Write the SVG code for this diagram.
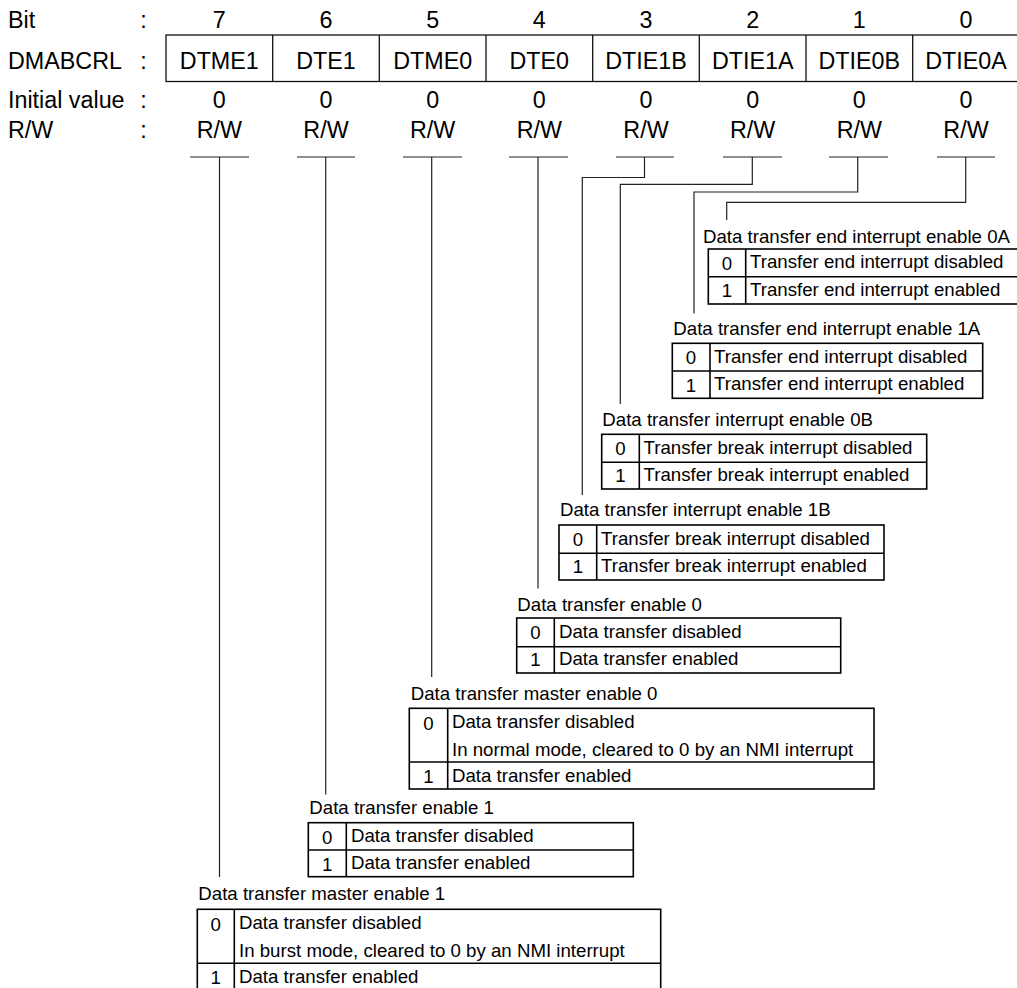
<svg xmlns="http://www.w3.org/2000/svg" width="1017" height="988" viewBox="0 0 1017 988">
<style>
text{font-family:"Liberation Sans",Arial,sans-serif;font-size:18.67px;fill:#000}
.h text{font-size:23.3px}
.c{text-anchor:middle}
.tb{fill:none;stroke:#000;stroke-width:1.6}
.ln{fill:none;stroke:#222;stroke-width:1.2}
.bx{fill:none;stroke:#111;stroke-width:1.3}
</style>
<rect width="1017" height="988" fill="#fff"/>
<g id="header" class="h">
<text x="8" y="27.5">Bit</text>
<text x="8" y="69">DMABCRL</text>
<text x="8" y="108.3">Initial value</text>
<text x="8" y="138.3">R/W</text>
<text class="c" x="143.5" y="27.5">:</text>
<text class="c" x="143.5" y="69">:</text>
<text class="c" x="143.5" y="108.3">:</text>
<text class="c" x="143.5" y="138.3">:</text>
<text class="c" x="219.3" y="27.5">7</text><text class="c" x="326" y="27.5">6</text><text class="c" x="432.7" y="27.5">5</text><text class="c" x="539.3" y="27.5">4</text><text class="c" x="646" y="27.5">3</text><text class="c" x="752.7" y="27.5">2</text><text class="c" x="859.3" y="27.5">1</text><text class="c" x="966" y="27.5">0</text>
<rect class="bx" x="166" y="35" width="856" height="46.5"/>
<path class="bx" d="M272.7 35V81.5M379.3 35V81.5M486 35V81.5M592.7 35V81.5M699.3 35V81.5M806 35V81.5M912.7 35V81.5"/>
<text class="c" x="219.3" y="69">DTME1</text><text class="c" x="326" y="69">DTE1</text><text class="c" x="432.7" y="69">DTME0</text><text class="c" x="539.3" y="69">DTE0</text><text class="c" x="646" y="69">DTIE1B</text><text class="c" x="752.7" y="69">DTIE1A</text><text class="c" x="859.3" y="69">DTIE0B</text><text class="c" x="966" y="69">DTIE0A</text>
<text class="c" x="219.3" y="108.3">0</text><text class="c" x="326" y="108.3">0</text><text class="c" x="432.7" y="108.3">0</text><text class="c" x="539.3" y="108.3">0</text><text class="c" x="646" y="108.3">0</text><text class="c" x="752.7" y="108.3">0</text><text class="c" x="859.3" y="108.3">0</text><text class="c" x="966" y="108.3">0</text>
<text class="c" x="219.3" y="138.3">R/W</text><text class="c" x="326" y="138.3">R/W</text><text class="c" x="432.7" y="138.3">R/W</text><text class="c" x="539.3" y="138.3">R/W</text><text class="c" x="646" y="138.3">R/W</text><text class="c" x="752.7" y="138.3">R/W</text><text class="c" x="859.3" y="138.3">R/W</text><text class="c" x="966" y="138.3">R/W</text>
</g>
<g id="connectors">
<path class="ln" d="M190 157H249M297 157H355M403 157H462M509 157H568M616 157H674M723 157H782M829 157H888M937 157H995"/>
<path class="ln" d="M219.5 157V877"/>
<path class="ln" d="M325.7 157V794.5"/>
<path class="ln" d="M431.7 157V677"/>
<path class="ln" d="M538 157V588.5"/>
<path class="ln" d="M644.5 157V177.5H582.3V495"/>
<path class="ln" d="M752.3 157V184.3H620.3V404"/>
<path class="ln" d="M857.7 157V192H694V313.5"/>
<path class="ln" d="M965.7 157V202.3H726.7V220"/>
</g>
<g id="dtie0a">
<text x="703" y="243">Data transfer end interrupt enable 0A</text>
<rect class="tb" x="708.3" y="249" width="320" height="55"/>
<path class="tb" d="M745.7 249V304M708.3 276.7H1028"/>
<text class="c" x="727" y="269.5">0</text><text x="750" y="268.3">Transfer end interrupt disabled</text>
<text class="c" x="727" y="297">1</text><text x="750" y="295.5">Transfer end interrupt enabled</text>
</g>
<g id="dtie1a">
<text x="673.3" y="335">Data transfer end interrupt enable 1A</text>
<rect class="tb" x="672.3" y="343.3" width="310.4" height="55"/>
<path class="tb" d="M710 343.3V398.3M672.3 371H982.7"/>
<text class="c" x="691" y="364">0</text><text x="714" y="362.8">Transfer end interrupt disabled</text>
<text class="c" x="691" y="391.5">1</text><text x="714" y="390">Transfer end interrupt enabled</text>
</g>
<g id="dtie0b">
<text x="602.3" y="426">Data transfer interrupt enable 0B</text>
<rect class="tb" x="601.7" y="434.3" width="325" height="54.7"/>
<path class="tb" d="M639.3 434.3V489M601.7 462.3H926.7"/>
<text class="c" x="620.5" y="455">0</text><text x="643.5" y="453.8">Transfer break interrupt disabled</text>
<text class="c" x="620.5" y="482.3">1</text><text x="643.5" y="481">Transfer break interrupt enabled</text>
</g>
<g id="dtie1b">
<text x="560" y="515.7">Data transfer interrupt enable 1B</text>
<rect class="tb" x="559" y="525" width="325" height="55"/>
<path class="tb" d="M596.7 525V580M559 553.3H884"/>
<text class="c" x="578" y="546">0</text><text x="601" y="544.5">Transfer break interrupt disabled</text>
<text class="c" x="578" y="573.3">1</text><text x="601" y="572">Transfer break interrupt enabled</text>
</g>
<g id="dte0">
<text x="517.3" y="610.7">Data transfer enable 0</text>
<rect class="tb" x="516.7" y="618" width="324" height="55"/>
<path class="tb" d="M554.3 618V673M516.7 646.7H840.7"/>
<text class="c" x="535.5" y="639">0</text><text x="559" y="637.5">Data transfer disabled</text>
<text class="c" x="535.5" y="666.3">1</text><text x="559" y="665">Data transfer enabled</text>
</g>
<g id="dtme0">
<text x="410.7" y="700">Data transfer master enable 0</text>
<rect class="tb" x="409.3" y="708.3" width="464.7" height="80.7"/>
<path class="tb" d="M447.7 708.3V789M409.3 762H874"/>
<text class="c" x="428.5" y="729.5">0</text><text x="452" y="728.3">Data transfer disabled</text>
<text x="452" y="755.7">In normal mode, cleared to 0 by an NMI interrupt</text>
<text class="c" x="428.5" y="783">1</text><text x="452" y="781.7">Data transfer enabled</text>
</g>
<g id="dte1">
<text x="309.3" y="814">Data transfer enable 1</text>
<rect class="tb" x="308.3" y="822.7" width="325" height="54"/>
<path class="tb" d="M346.3 822.7V876.7M308.3 850H633.3"/>
<text class="c" x="327.3" y="843.5">0</text><text x="351" y="842.3">Data transfer disabled</text>
<text class="c" x="327.3" y="870.5">1</text><text x="351" y="869.3">Data transfer enabled</text>
</g>
<g id="dtme1">
<text x="198.3" y="900">Data transfer master enable 1</text>
<rect class="tb" x="197.3" y="909.3" width="463.4" height="81"/>
<path class="tb" d="M234.3 909.3V990.3M197.3 963.3H660.7"/>
<text class="c" x="215.8" y="930.5">0</text><text x="239" y="929.3">Data transfer disabled</text>
<text x="239" y="956.5">In burst mode, cleared to 0 by an NMI interrupt</text>
<text class="c" x="215.8" y="984.3">1</text><text x="239" y="983">Data transfer enabled</text>
</g>
</svg>
